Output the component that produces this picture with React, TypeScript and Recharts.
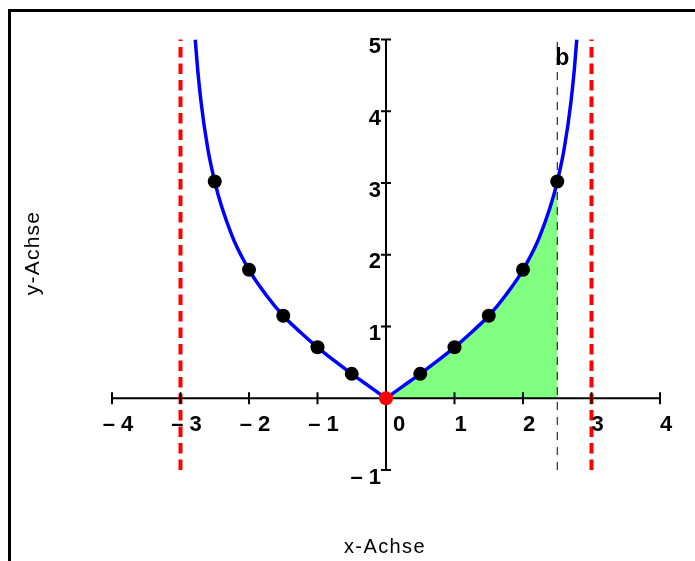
import React from "react";
import {
  ComposedChart,
  Line,
  Area,
  Scatter,
  XAxis,
  YAxis,
  ReferenceLine,
  ReferenceDot,
} from "recharts";

// f(x) read along the right branch, from the origin up to the top of the plot
const rightCurveX = [0, 0.25, 0.5, 0.75, 1, 1.25, 1.5, 1.75, 2, 2.25, 2.5, 2.6, 2.7, 2.75, 2.785];
const rightCurveY = [0, 0.17, 0.34, 0.52, 0.71, 0.92, 1.15, 1.44, 1.79, 2.27, 3.02, 3.47, 4.13, 4.59, 5.0];

// left branch (the graph is symmetric)
const leftCurveX = [-2.785, -2.75, -2.7, -2.6, -2.5, -2.25, -2, -1.75, -1.5, -1.25, -1, -0.75, -0.5, -0.25, 0];
const leftCurveY = [5.0, 4.59, 4.13, 3.47, 3.02, 2.27, 1.79, 1.44, 1.15, 0.92, 0.71, 0.52, 0.34, 0.17, 0];

// table values marked on the graph
const pointX = [-2.5, -2, -1.5, -1, -0.5, 0.5, 1, 1.5, 2, 2.5];
const pointY = [3.02, 1.79, 1.15, 0.71, 0.34, 0.34, 0.71, 1.15, 1.79, 3.02];

// upper bound of the shaded integral and the vertical asymptotes
const upperBound = 2.5;
const asymptotes = [-3, 3];

const xTicks = [-4, -3, -2, -1, 1, 2, 3, 4];
const xTickLabels = ["\u2013 4", "\u2013 3", "\u2013 2", "\u2013 1", "1", "2", "3", "4"];
const yTicks = [-1, 1, 2, 3, 4, 5];
const yTickLabels = ["\u2013 1", "1", "2", "3", "4", "5"];

const font = "'Liberation Sans', Arial, Helvetica, sans-serif";

const zip = (xs: number[], ys: number[]) => xs.map((x, i) => ({ x, y: ys[i] }));

const rightCurve = zip(rightCurveX, rightCurveY);
const leftCurve = zip(leftCurveX, leftCurveY);
const shaded = rightCurve.filter((d) => d.x <= upperBound);
const points = zip(pointX, pointY);
const origin = [{ x: 0, y: 0 }];

const xTickShape = (label: string, dx: number) => (p: any) => (
  <g>
    <line x1={p.cx} x2={p.cx} y1={p.cy - 6} y2={p.cy + 6} stroke="#000" strokeWidth={2} />
    <text
      x={p.cx + dx}
      y={p.cy + 33}
      textAnchor="middle"
      fontFamily={font}
      fontWeight="bold"
      fontSize={22}
      fill="#000"
    >
      {label}
    </text>
  </g>
);

const yTickShape = (label: string) => (p: any) => (
  <g>
    <line x1={p.cx - 5} x2={p.cx + 5} y1={p.cy} y2={p.cy} stroke="#000" strokeWidth={2} />
    <text
      x={p.cx - 5}
      y={p.cy + 13.5}
      textAnchor="end"
      fontFamily={font}
      fontWeight="bold"
      fontSize={22}
      fill="#000"
    >
      {label}
    </text>
  </g>
);

const boundLabel = (p: any) => (
  <text x={p.cx - 2} y={p.cy + 25} fontFamily={font} fontWeight="bold" fontSize={23} fill="#000">
    b
  </text>
);

const zeroLabel = (p: any) => (
  <text
    x={p.cx + 13}
    y={p.cy + 33}
    textAnchor="middle"
    fontFamily={font}
    fontWeight="bold"
    fontSize={22}
    fill="#000"
  >
    0
  </text>
);

const blackDot = (p: any) => <circle cx={p.cx} cy={p.cy} r={7} fill="#000" />;
const redDot = (p: any) => <circle cx={p.cx} cy={p.cy} r={7} fill="#ff0000" />;

export default function App() {
  return (
    // negative bottom margin cancels the body margin so the page does not scroll
    <div style={{ marginBottom: -8 }}>
      {/* frame: open to the right and bottom, fixed so it never adds scroll overflow */}
      <div
        style={{
          position: "fixed",
          left: 8,
          top: 9,
          width: 720,
          height: 600,
          borderLeft: "3px solid #000",
          borderTop: "3px solid #000",
          pointerEvents: "none",
        }}
      />
      <ComposedChart
        width={687}
        height={553}
        margin={{ top: 31.5, right: 35, bottom: 91, left: 104 }}
      >
        <XAxis type="number" dataKey="x" domain={[-4, 4]} hide allowDataOverflow />
        <YAxis type="number" dataKey="y" domain={[-1, 5]} hide allowDataOverflow />

        {/* coordinate axes through the origin */}
        <ReferenceLine y={0} stroke="#000" strokeWidth={2} />
        <ReferenceLine x={0} stroke="#000" strokeWidth={2} />
        {xTicks.map((t, i) => (
          <ReferenceDot key={`xt${t}`} x={t} y={0} r={0} shape={xTickShape(xTickLabels[i], 6)} />
        ))}
        {yTicks.map((t, i) => (
          <ReferenceDot key={`yt${t}`} x={0} y={t} r={0} shape={yTickShape(yTickLabels[i])} />
        ))}
        <ReferenceDot x={0} y={0} r={0} shape={zeroLabel} />

        <Area
          data={shaded}
          dataKey="y"
          type="monotone"
          baseValue={0}
          fill="#80ff80"
          fillOpacity={1}
          stroke="none"
          isAnimationActive={false}
        />

        <ReferenceLine x={upperBound} stroke="#000" strokeWidth={1} strokeDasharray="8 7" />
        <ReferenceDot x={upperBound} y={5} r={0} shape={boundLabel} />
        {asymptotes.map((a) => (
          <ReferenceLine key={`as${a}`} x={a} stroke="#ff0000" strokeWidth={4} strokeDasharray="10.5 6" />
        ))}

        <Line
          data={leftCurve}
          dataKey="y"
          type="monotone"
          stroke="#0000ff"
          strokeWidth={3.5}
          dot={false}
          isAnimationActive={false}
        />
        <Line
          data={rightCurve}
          dataKey="y"
          type="monotone"
          stroke="#0000ff"
          strokeWidth={3.5}
          dot={false}
          isAnimationActive={false}
        />
        <Scatter data={points} dataKey="y" shape={blackDot} isAnimationActive={false} />
        <Scatter data={origin} dataKey="y" shape={redDot} isAnimationActive={false} />

        {/* axis titles */}
        <text
          x={377}
          y={545}
          textAnchor="middle"
          fontFamily={font}
          fontSize={20}
          letterSpacing={1.4}
          fill="#000"
        >
          x-Achse
        </text>
        <text
          transform="translate(31,245) rotate(-90)"
          textAnchor="middle"
          fontFamily={font}
          fontSize={21}
          letterSpacing={1.2}
          fill="#000"
        >
          y-Achse
        </text>
      </ComposedChart>
    </div>
  );
}
